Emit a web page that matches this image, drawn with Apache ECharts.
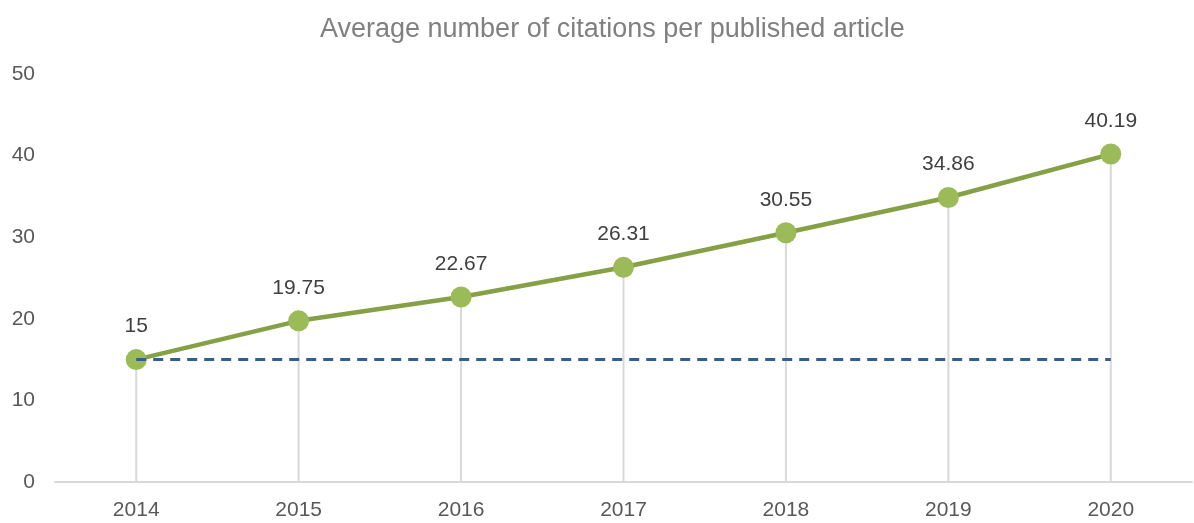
<!DOCTYPE html>
<html>
<head>
<meta charset="utf-8">
<script src="https://cdn.jsdelivr.net/npm/echarts@6/dist/echarts.min.js"></script>
<style>
  html, body { margin: 0; padding: 0; background: #fff; }
  #chart { width: 1194px; height: 523px; }
</style>
</head>
<body>
<div id="chart"></div>
<script>
// Yearly averages of citations per published article
const years = ['2014', '2015', '2016', '2017', '2018', '2019', '2020'];
const citations = [15, 19.75, 22.67, 26.31, 30.55, 34.86, 40.19];
// Reference level held at the 2014 value
const baseline = [15, 15, 15, 15, 15, 15, 15];
const yTicks = [0, 10, 20, 30, 40, 50];

const font = 'Liberation Sans, Arial, sans-serif';
const chart = echarts.init(document.getElementById('chart'));

chart.setOption({
  animation: false,
  title: {
    text: 'Average number of citations per published article',
    left: 315,
    top: 11,
    textStyle: { fontFamily: font, fontSize: 27, fontWeight: 'normal', color: '#808080' }
  },
  grid: { left: 55, right: 2, top: 74, bottom: 41 },
  xAxis: {
    type: 'category',
    data: years,
    boundaryGap: true,
    axisLine: { lineStyle: { color: '#d9d9d9', width: 2 } },
    axisTick: { show: false },
    axisLabel: { fontFamily: font, fontSize: 21, color: '#595959', margin: 18 }
  },
  yAxis: {
    type: 'value',
    min: yTicks[0],
    max: yTicks[yTicks.length - 1],
    interval: 10,
    axisLine: { show: false },
    axisTick: { show: false },
    splitLine: { show: false },
    axisLabel: { fontFamily: font, fontSize: 21, color: '#595959', margin: 20 }
  },
  series: [
    {
      // drop lines from each point to the axis
      type: 'bar',
      data: citations,
      barWidth: 2,
      itemStyle: { color: '#d9d9d9' },
      silent: true,
      z: 1
    },
    {
      type: 'line',
      data: citations,
      symbol: 'circle',
      symbolSize: 21,
      itemStyle: { color: '#9bbb59' },
      lineStyle: { color: '#86a046', width: 4.5 },
      label: {
        show: true,
        position: 'top',
        distance: 12,
        fontFamily: font,
        fontSize: 21,
        color: '#404040'
      },
      z: 2
    },
    {
      // dashed level line drawn over the first marker
      type: 'line',
      data: baseline,
      symbol: 'none',
      lineStyle: { color: '#2f5f95', width: 3, type: [10, 7] },
      z: 4
    }
  ]
});
</script>
</body>
</html>
